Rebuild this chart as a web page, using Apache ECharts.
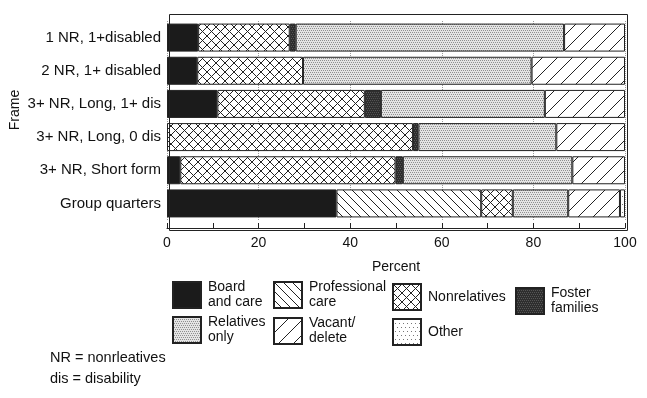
<!DOCTYPE html>
<html lang="en">
<head>
    <meta charset="UTF-8">
    <title>Frame by percent</title>
    <style>
        html, body { margin: 0; padding: 0; background: #fff; }
        #chart { width: 647px; height: 398px; }
    </style>
    <script src="https://cdn.jsdelivr.net/npm/echarts@6/dist/echarts.min.js"></script>
</head>
<body>
    <div id="chart"></div>
    <script>
        // data (percent)
        const categories = ['1 NR, 1+disabled', '2 NR, 1+ disabled', '3+ NR, Long, 1+ dis',
            '3+ NR, Long, 0 dis', '3+ NR, Short form', 'Group quarters'];
        const boardCare = [6.8, 6.6, 11.0, 0, 2.9, 37.0];
        const professionalCare = [0, 0, 0, 0, 0, 31.6];
        const nonrelatives = [20.0, 23.1, 32.2, 53.7, 47.0, 6.9];
        const fosterFamilies = [1.3, 0, 3.5, 1.2, 1.6, 0];
        const relativesOnly = [58.6, 49.9, 35.8, 30.1, 37.0, 12.1];
        const vacantDelete = [13.3, 20.4, 17.5, 15.0, 11.5, 11.3];
        const other = [0, 0, 0, 0, 0, 1.1];
        const xTicks = [0, 20, 40, 60, 80, 100];

        // small canvas tiles for the hatch fills
        function tile(size, bg, draw) {
            const c = document.createElement('canvas');
            c.width = c.height = size;
            const ctx = c.getContext('2d');
            ctx.fillStyle = bg;
            ctx.fillRect(0, 0, size, size);
            ctx.strokeStyle = '#222';
            ctx.fillStyle = '#222';
            ctx.lineWidth = 1;
            if (draw) draw(ctx, size);
            return { image: c, repeat: 'repeat' };
        }
        function back(ctx, s) {
            ctx.beginPath();
            for (const o of [-s, 0, s]) { ctx.moveTo(o, 0); ctx.lineTo(o + s, s); }
            ctx.stroke();
        }
        function fwd(ctx, s) {
            ctx.beginPath();
            for (const o of [-s, 0, s]) { ctx.moveTo(o, s); ctx.lineTo(o + s, 0); }
            ctx.stroke();
        }
        function dots(color, step) {
            return function (ctx, s) {
                ctx.fillStyle = color;
                for (let x = 0; x < s; x += step)
                    for (let y = 0; y < s; y += step) ctx.fillRect(x + ((y / step) % 2) * (step / 2 | 0), y, 1, 1);
            };
        }

        const fills = {
            board: '#1b1b1b',
            prof: tile(9, '#fff', back),
            nonrel: tile(9, '#fff', function (ctx, s) { back(ctx, s); fwd(ctx, s); }),
            foster: tile(4, '#2e2e2e', dots('#555', 2)),
            rel: tile(4, '#e4e4e4', dots('#8f8f8f', 2)),
            vacant: tile(15, '#fff', fwd),
            other: tile(8, '#fff', dots('#777', 4))
        };

        const seriesDefs = [
            { name: 'Board and care', label: 'Board\nand care', data: boardCare, fill: fills.board, pos: [172, 280] },
            { name: 'Professional care', label: 'Professional\ncare', data: professionalCare, fill: fills.prof, pos: [273, 280] },
            { name: 'Nonrelatives', label: 'Nonrelatives', data: nonrelatives, fill: fills.nonrel, pos: [392, 283] },
            { name: 'Foster families', label: 'Foster\nfamilies', data: fosterFamilies, fill: fills.foster, pos: [515, 286] },
            { name: 'Relatives only', label: 'Relatives\nonly', data: relativesOnly, fill: fills.rel, pos: [172, 315] },
            { name: 'Vacant/ delete', label: 'Vacant/\ndelete', data: vacantDelete, fill: fills.vacant, pos: [273, 316] },
            { name: 'Other', label: 'Other', data: other, fill: fills.other, pos: [392, 318] }
        ];

        const font = 'Liberation Sans, Arial, sans-serif';
        var myChart = echarts.init(document.getElementById('chart'));

        option = {
            animation: false,
            backgroundColor: '#fff',
            textStyle: { fontFamily: font, color: '#111' },
            title: {
                text: 'NR = nonrleatives\ndis = disability',
                left: 50,
                top: 347,
                padding: 0,
                textStyle: { fontFamily: font, fontSize: 14.5, fontWeight: 'normal', color: '#111', lineHeight: 21 }
            },
            legend: seriesDefs.map(function (d) {
                return {
                    data: [d.name],
                    left: d.pos[0],
                    top: d.pos[1],
                    padding: 0,
                    itemWidth: 28,
                    itemHeight: 26,
                    icon: 'rect',
                    selectedMode: false,
                    formatter: function () { return d.label; },
                    textStyle: { fontFamily: font, fontSize: 14, color: '#111', lineHeight: 15, padding: [0, 0, 0, 2] }
                };
            }),
            grid: { left: 167, right: 22, top: 21, bottom: 178 },
            xAxis: {
                type: 'value',
                min: 0,
                max: 100,
                interval: 20,
                offset: 8,
                name: 'Percent',
                nameLocation: 'middle',
                nameGap: 32,
                nameTextStyle: { fontFamily: font, fontSize: 14, color: '#111' },
                axisLine: { show: true, lineStyle: { color: '#222' } },
                axisTick: { show: true, inside: true, length: 5, lineStyle: { color: '#222' } },
                minorTick: { show: true, splitNumber: 2, length: 5, lineStyle: { color: '#222' } },
                axisLabel: {
                    fontFamily: font, fontSize: 14, color: '#111', margin: 8,
                    formatter: function (v) { return xTicks.indexOf(v) >= 0 ? String(v) : ''; }
                },
                splitLine: { show: true, lineStyle: { type: 'dotted', color: '#999' } }
            },
            yAxis: {
                type: 'category',
                inverse: true,
                data: categories,
                axisLine: { show: false },
                axisTick: { show: false },
                axisLabel: { fontFamily: font, fontSize: 15, color: '#111', margin: 6 }
            },
            graphic: [{
                type: 'rect',
                left: 167,
                top: 12,
                shape: { width: 458, height: 216 },
                style: { fill: null, stroke: '#222', lineWidth: 1 },
                silent: true,
                z: 10
            }, {
                // y axis title, placed a little above the plot centre as in the original
                type: 'text',
                x: 15,
                y: 110,
                rotation: Math.PI / 2,
                style: {
                    text: 'Frame', fontFamily: font, fontSize: 14, fill: '#111',
                    textAlign: 'center', textVerticalAlign: 'middle'
                }
            }],
            series: seriesDefs.map(function (d) {
                return {
                    name: d.name,
                    type: 'bar',
                    stack: 'all',
                    barWidth: 28,
                    data: d.data.map(function (v) { return v > 0 ? v : '-'; }),
                    itemStyle: { color: d.fill, borderColor: '#222', borderWidth: 1 }
                };
            })
        };

        myChart.setOption(option);
    </script>
</body>
</html>
